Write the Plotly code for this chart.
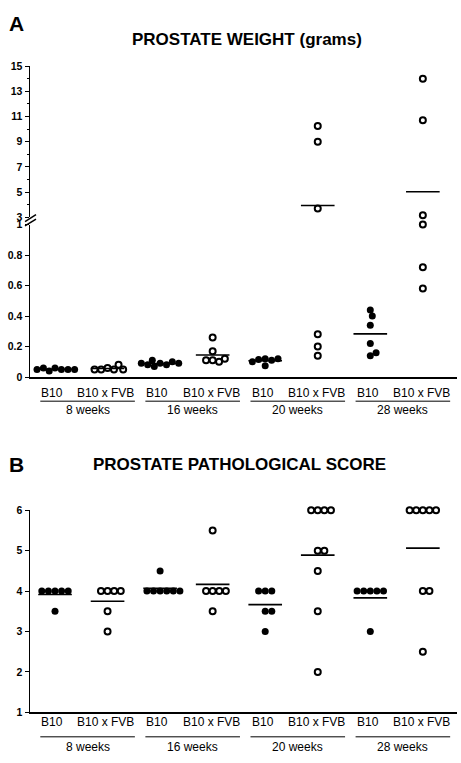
import numpy as np
import plotly.graph_objects as go

# ---------------- data ----------------
groups = ["B10", "B10 x FVB"] * 4
ages = ["8 weeks", "16 weeks", "20 weeks", "28 weeks"]

# Panel A: prostate weight (grams)
w_b10_8 = [0.06, 0.05, 0.04, 0.06, 0.05, 0.05, 0.05]
w_fvb_8 = [0.06, 0.05, 0.05, 0.08, 0.05, 0.05]
w_b10_16 = [0.09, 0.08, 0.07, 0.11, 0.10, 0.08, 0.09, 0.09]
w_fvb_16 = [0.26, 0.17, 0.11, 0.10, 0.11, 0.12]
w_b10_20 = [0.12, 0.11, 0.115, 0.12, 0.10, 0.075]
w_fvb_20 = [10.25, 9.0, 3.7, 0.28, 0.20, 0.14]
w_b10_28 = [0.44, 0.40, 0.34, 0.22, 0.14, 0.16]
w_fvb_28 = [14.0, 10.7, 3.15, 1.0, 0.72, 0.58]

# Panel B: prostate pathological score
s_b10_8 = [4, 4, 4, 4, 4, 3.5]
s_fvb_8 = [4, 4, 4, 4, 3.5, 3]
s_b10_16 = [4, 4, 4, 4, 4, 4, 4.5]
s_fvb_16 = [5.5, 4, 4, 4, 4, 3.5]
s_b10_20 = [4, 4, 4, 3.5, 3.5, 3]
s_fvb_20 = [6, 6, 6, 6, 5, 5, 4.5, 3.5, 2]
s_b10_28 = [4, 4, 4, 4, 4, 3]
s_fvb_28 = [6, 6, 6, 6, 6, 4, 4, 2.5]

weights = [w_b10_8, w_fvb_8, w_b10_16, w_fvb_16, w_b10_20, w_fvb_20, w_b10_28, w_fvb_28]
scores = [s_b10_8, s_fvb_8, s_b10_16, s_fvb_16, s_b10_20, s_fvb_20, s_b10_28, s_fvb_28]

upper_ticks = [3, 5, 7, 9, 11, 13, 15]
lower_ticks = [0, 0.2, 0.4, 0.6, 0.8, 1]
lower_labels = ["0", "0.2", "0.4", "0.6", "0.8", "1"]
score_ticks = [1, 2, 3, 4, 5, 6]

# ---------------- geometry ----------------
W, H = 461, 763
X_L, X_R = 30, 457
A_UP_TOP, A_UP_BOT = 61, 214.6
A_LO_TOP, A_LO_BOT = 222, 377
B_TOP, B_BOT = 512.3, 717.7
XR = [-0.476, 7.65]
XPPU = (X_R - X_L) / (XR[1] - XR[0])
BREAK = 3


def py(p):
    return (H - p) / H


def pxp(p):
    return p / W


def ypix_a(v):
    if v >= BREAK:
        return A_UP_BOT - (v - 3) * (A_UP_BOT - A_UP_TOP) / 12
    return A_LO_BOT - v * (A_LO_BOT - A_LO_TOP)


def ypix_b(v):
    return B_BOT - (v - 1) * (B_BOT - B_TOP) / 5


CANDS = sorted(np.arange(-40, 40.01, 0.2), key=lambda c: (abs(round(c, 3)), -c))


def swarm(vals, yfun, diam=6.5):
    placed, offs = [], []
    for v in vals:
        y = yfun(v)
        for c in CANDS:
            if all((c - a) ** 2 + (y - b) ** 2 >= diam ** 2 for a, b in placed):
                break
        placed.append((c, y))
        offs.append(c / XPPU)
    return offs


fig = go.Figure()


def marker_for(i):
    if i % 2 == 0:
        return dict(size=7, color="black", line=dict(width=0))
    return dict(size=6, color="white", line=dict(width=2, color="black"))


# Panel A points
for i, vals in enumerate(weights):
    offs = swarm(vals, ypix_a)
    up_x = [i + o for v, o in zip(vals, offs) if v >= BREAK]
    up_y = [v for v in vals if v >= BREAK]
    lo_x = [i + o for v, o in zip(vals, offs) if v < BREAK]
    lo_y = [v for v in vals if v < BREAK]
    m = float(np.mean(vals))
    if lo_y:
        fig.add_trace(go.Scatter(x=lo_x, y=lo_y, mode="markers", marker=marker_for(i),
                                 xaxis="x", yaxis="y", cliponaxis=False, showlegend=False))
    if up_y:
        fig.add_trace(go.Scatter(x=up_x, y=up_y, mode="markers", marker=marker_for(i),
                                 xaxis="x2", yaxis="y2", cliponaxis=False, showlegend=False))
    fig.add_trace(go.Scatter(x=[i - 0.32, i + 0.32], y=[m, m], mode="lines",
                             line=dict(color="black", width=1.6),
                             xaxis="x2" if m >= BREAK else "x",
                             yaxis="y2" if m >= BREAK else "y",
                             cliponaxis=False, showlegend=False))

# Panel B points
for i, vals in enumerate(scores):
    offs = swarm(vals, ypix_b)
    m = float(np.mean(vals))
    fig.add_trace(go.Scatter(x=[i + o for o in offs], y=vals, mode="markers", marker=marker_for(i),
                             xaxis="x3", yaxis="y3", cliponaxis=False, showlegend=False))
    fig.add_trace(go.Scatter(x=[i - 0.32, i + 0.32], y=[m, m], mode="lines",
                             line=dict(color="black", width=1.6),
                             xaxis="x3", yaxis="y3", cliponaxis=False, showlegend=False))

FONT = "Liberation Sans, Arial, sans-serif"
tickfont = dict(family=FONT, size=10.5, color="black", weight="bold")
xdom = [pxp(X_L), pxp(X_R)]

common_y = dict(showgrid=False, zeroline=False, showline=True, linecolor="black", linewidth=1.5,
                ticks="outside", ticklen=4, tickwidth=1, tickcolor="black", tickfont=tickfont,
                fixedrange=True)

fig.update_layout(
    width=W, height=H,
    margin=dict(l=0, r=0, t=0, b=0),
    paper_bgcolor="white", plot_bgcolor="white",
    xaxis=dict(domain=xdom, range=XR, anchor="y", showgrid=False, zeroline=False,
               showline=True, linecolor="black", linewidth=1.5, showticklabels=False, ticks=""),
    yaxis=dict(domain=[py(A_LO_BOT), py(A_LO_TOP)], range=[0, 1], anchor="x",
               tickvals=lower_ticks, ticktext=lower_labels, **common_y),
    xaxis2=dict(domain=xdom, range=XR, anchor="y2", matches="x", visible=False),
    yaxis2=dict(domain=[py(A_UP_BOT), py(A_UP_TOP)], range=[3, 15], anchor="x2",
                tickvals=upper_ticks,
                minor=dict(dtick=1, ticks="outside", ticklen=2, tickcolor="black"),
                **common_y),
    xaxis3=dict(domain=xdom, range=XR, anchor="y3", showgrid=False, zeroline=False,
                showline=True, linecolor="black", linewidth=1.5, showticklabels=False, ticks=""),
    yaxis3=dict(domain=[py(B_BOT), py(B_TOP)], range=[1, 6], anchor="x3",
                tickvals=score_ticks, **common_y),
)

ann = []
shapes = []
# titles and panel letters
ann.append(dict(text="<b>A</b>", x=pxp(7), y=py(18), xref="paper", yref="paper", xanchor="left",
                yanchor="middle", showarrow=False, font=dict(family=FONT, size=21, color="black")))
ann.append(dict(text="<b>B</b>", x=pxp(7), y=py(466), xref="paper", yref="paper", xanchor="left",
                yanchor="middle", showarrow=False, font=dict(family=FONT, size=21, color="black")))
ann.append(dict(text="<b>PROSTATE WEIGHT (grams)</b>", x=pxp(247), y=py(34), xref="paper", yref="paper",
                xanchor="center", yanchor="middle", showarrow=False,
                font=dict(family=FONT, size=17, color="black")))
ann.append(dict(text="<b>PROSTATE PATHOLOGICAL SCORE</b>", x=pxp(240), y=py(466), xref="paper",
                yref="paper", xanchor="center", yanchor="middle", showarrow=False,
                font=dict(family=FONT, size=17, color="black")))

lab_font = dict(family=FONT, size=12, color="black")
for xr_, y_lab, y_line, y_age in [("x", 393, 401.5, 410.5), ("x3", 727, 742.5, 752.5)]:
    for i, g in enumerate(groups):
        ann.append(dict(text=g, x=i - 0.05 if i % 2 == 0 else i - 0.03, y=py(y_lab), xref=xr_,
                        yref="paper", xanchor="center", yanchor="middle", showarrow=False, font=lab_font))
    for k, a in enumerate(ages):
        x0, x1 = 2 * k - 0.28, 2 * k + 1.52
        shapes.append(dict(type="line", xref=xr_, yref="paper", x0=x0, x1=x1, y0=py(y_line),
                           y1=py(y_line), line=dict(color="black", width=1)))
        ann.append(dict(text=a, x=(x0 + x1) / 2, y=py(y_age), xref=xr_, yref="paper",
                        xanchor="center", yanchor="middle", showarrow=False, font=lab_font))

# axis break marks
for dy in (0, 4.5):
    shapes.append(dict(type="line", xref="paper", yref="paper",
                       x0=pxp(25), y0=py(220 + dy - 1), x1=pxp(36), y1=py(213 + dy - 1),
                       line=dict(color="black", width=1.5)))
fig.update_layout(annotations=ann, shapes=shapes)

fig.write_html("out.html", config={"displayModeBar": False, "staticPlot": True},
               post_script="document.body.style.margin='0';document.body.style.overflow='hidden';")
